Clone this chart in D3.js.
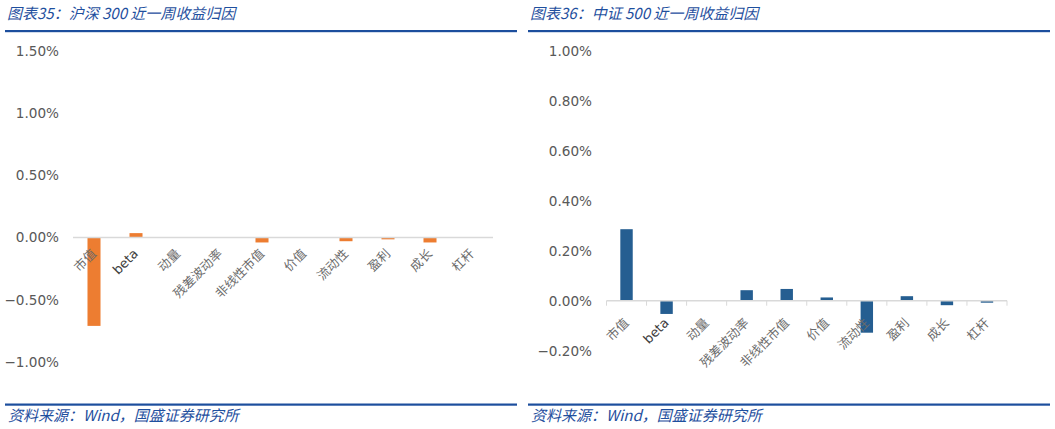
<!DOCTYPE html>
<html>
<head>
<meta charset="utf-8">
<script src="https://cdn.jsdelivr.net/npm/d3@7"></script>
<style>
  body { margin: 0; background: #fff; }
  svg { display: block; }
  .title, .source { font-family: "Noto Sans CJK SC", sans-serif; font-style: italic; fill: #1f4f9e; }
  .tick-label { font-family: "DejaVu Sans", sans-serif; font-size: 13.6px; fill: #595959; }
  .cat-label { font-family: "Noto Sans CJK SC", sans-serif; font-size: 12.5px; fill: #6b6b6b; }
  .cat-latin { font-family: "DejaVu Sans", sans-serif; font-size: 13px; fill: #404040; }
</style>
</head>
<body>
<div id="chart"></div>
<script>
// factor names (same for both panels)
var categories = ["市值", "beta", "动量", "残差波动率", "非线性市值", "价值", "流动性", "盈利", "成长", "杠杆"];

// weekly attribution, in percent
var hs300Values = [-0.71, 0.035, 0, 0, -0.04, 0, -0.03, -0.015, -0.04, -0.002];
var zz500Values = [0.286, -0.053, 0, 0.042, 0.047, 0.013, -0.128, 0.018, -0.018, -0.008];

var hs300Ticks = [-1.0, -0.5, 0, 0.5, 1.0, 1.5];
var zz500Ticks = [-0.2, 0, 0.2, 0.4, 0.6, 0.8, 1.0];

var hs300Title = "图表35：沪深 300 近一周收益归因";
var zz500Title = "图表36：中证 500 近一周收益归因";
var sourceText = "资料来源：Wind，国盛证券研究所";

var W = 1055, H = 429;

var svg = d3.select("#chart").append("svg")
    .attr("width", W)
    .attr("height", H);

function drawPanel(opt) {
  var g = svg.append("g");

  // title + rule lines
  g.append("text")
      .attr("class", "title")
      .attr("x", opt.left + 2)
      .attr("y", 19)
      .style("font-size", "15px")
      .text(opt.title);

  g.append("rect")
      .attr("x", opt.left).attr("y", 30)
      .attr("width", opt.right - opt.left).attr("height", 2.2)
      .attr("fill", "#1c4e9d");

  g.append("rect")
      .attr("x", opt.left).attr("y", 403.5)
      .attr("width", opt.right - opt.left).attr("height", 2.2)
      .attr("fill", "#1c4e9d");

  g.append("text")
      .attr("class", "source")
      .attr("x", opt.left + 3)
      .attr("y", 421)
      .style("font-size", "15px")
      .text(sourceText);

  var x = d3.scaleBand()
      .domain(categories)
      .range([opt.x0, opt.x1])
      .padding(0);

  var y = d3.scaleLinear()
      .domain(opt.domain)
      .range([opt.yBottom, opt.yTop]);

  // y labels
  g.selectAll(".tick-label")
    .data(opt.ticks)
    .enter().append("text")
      .attr("class", "tick-label")
      .attr("x", opt.labelX)
      .attr("y", function(d) { return y(d); })
      .attr("dy", "0.36em")
      .attr("text-anchor", "end")
      .text(function(d) { return d3.format(".2f")(d) + "%"; });

  // bars
  var bw = x.bandwidth() * 0.31;
  g.selectAll(".bar")
    .data(opt.values)
    .enter().append("rect")
      .attr("class", "bar")
      .attr("x", function(d, i) { return x(categories[i]) + (x.bandwidth() - bw) / 2; })
      .attr("width", bw)
      .attr("y", function(d) { return y(Math.max(0, d)); })
      .attr("height", function(d) { return Math.abs(y(d) - y(0)); })
      .attr("fill", opt.color);

  // zero axis line
  g.append("line")
      .attr("x1", opt.x0).attr("x2", opt.x1)
      .attr("y1", y(0)).attr("y2", y(0))
      .attr("stroke", "#d9d9d9")
      .attr("stroke-width", 1.5);

  if (opt.tickMarks) {
    var edges = categories.map(function(c) { return x(c); }).concat([opt.x1]);
    g.selectAll(".tick-mark")
      .data(edges)
      .enter().append("line")
        .attr("class", "tick-mark")
        .attr("x1", function(d) { return d; })
        .attr("x2", function(d) { return d; })
        .attr("y1", y(0))
        .attr("y2", y(0) + 5)
        .attr("stroke", "#d9d9d9")
        .attr("stroke-width", 1);
  }

  // category labels, rotated
  g.selectAll(".cat")
    .data(categories)
    .enter().append("text")
      .attr("class", function(d) { return d === "beta" ? "cat-latin" : "cat-label"; })
      .attr("text-anchor", "end")
      .attr("transform", function(d) {
        return "translate(" + (x(d) + x.bandwidth() / 2 + 3) + "," + (y(0) + opt.labelOffset) + ") rotate(-45)";
      })
      .text(function(d) { return d; });
}

drawPanel({
  left: 5, right: 517,
  title: hs300Title,
  values: hs300Values,
  ticks: hs300Ticks,
  domain: [-1.0, 1.5],
  yBottom: 362, yTop: 50.7,
  x0: 73, x1: 493,
  labelX: 59,
  labelOffset: 17,
  color: "#ed7d31",
  tickMarks: false
});

drawPanel({
  left: 528, right: 1050,
  title: zz500Title,
  values: zz500Values,
  ticks: zz500Ticks,
  domain: [-0.2, 1.0],
  yBottom: 350.7, yTop: 50.7,
  x0: 606.5, x1: 1007,
  labelX: 592,
  labelOffset: 23,
  color: "#255e91",
  tickMarks: true
});
</script>
</body>
</html>
